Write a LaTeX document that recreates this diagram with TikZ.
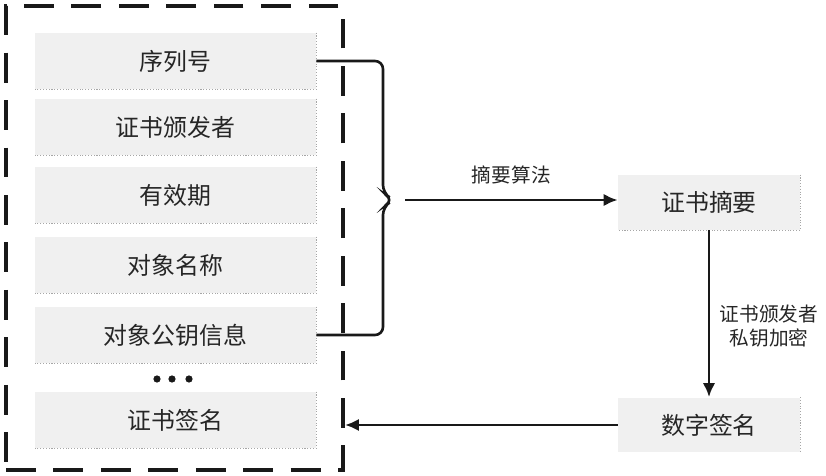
\documentclass[tikz,border=0pt]{standalone}
\usepackage{fontspec}
\setmainfont{Noto Sans CJK SC}
\usepackage{tikz}
\usetikzlibrary{calc,arrows.meta}

\begin{document}
\begin{tikzpicture}[x=0.02cm,y=-0.02cm,
  field/.style={fill=black!6,minimum width=5.62cm,minimum height=1.12cm,inner sep=0pt,
    text=black!85,font=\fontsize{13.6}{16}\selectfont},
  fieldedge/.style={black!35,densely dotted,line width=0.6pt},
  certframe/.style={draw=black!90,line width=2.3pt,dash pattern=on 17pt off 10pt,
    minimum width=6.74cm,minimum height=9.3cm,inner sep=0pt},
  link/.style={black!90,line width=1.7pt},
  flow/.style={link,-{Latex[length=2.8mm,width=2.5mm]}},
  tag/.style={text=black!85,font=\fontsize{11.2}{14}\selectfont,align=center}]
\useasboundingbox (0,0) rectangle (826,476);
% certificate frame
\node[certframe] (cert) at (174.5,238) {};
\foreach \n/\y/\t in {serial/61/序列号, issuer/127/证书颁发者, valid/195/有效期,
                      subject/265/对象名称, pubkey/335/对象公钥信息, sign/420/证书签名}
  {\node[field] (\n) at (175.5,\y) {\t};
   \draw[fieldedge] (\n.north east) -- (\n.south east) -- (\n.south west);}
\foreach \x in {157,172,189} \filldraw[black!90] (\x,379) circle (3.2);
% right side boxes
\node[field,minimum width=3.64cm,minimum height=1.1cm] (digest) at (709,202.5) {证书摘要};
\node[field,minimum width=3.64cm,minimum height=1.1cm] (dsig) at (709,425) {数字签名};
\draw[fieldedge] (digest.north east) -- (digest.south east) -- (digest.south west);
\draw[fieldedge] (dsig.north east) -- (dsig.south east);
% brace over the hashed fields
\coordinate (tip) at (393,200);
\draw[link,line width=1.5pt,rounded corners=0.16cm]
  (serial.east) -- (383,61) -- (383,193) -- (tip) -- (383,207) -- (383,335) -- (pubkey.east);
\draw[flow] ($(tip)+(12,0)$) -- (digest.west |- tip)
  node[tag,midway,above=5pt] {摘要算法};
\draw[flow] (digest.south) -- (dsig.north)
  node[tag,midway,right=2pt,yshift=-7pt] {证书颁发者\\私钥加密};
\draw[flow] (dsig.west) -- (dsig.west -| cert.east);
\end{tikzpicture}
\end{document}
